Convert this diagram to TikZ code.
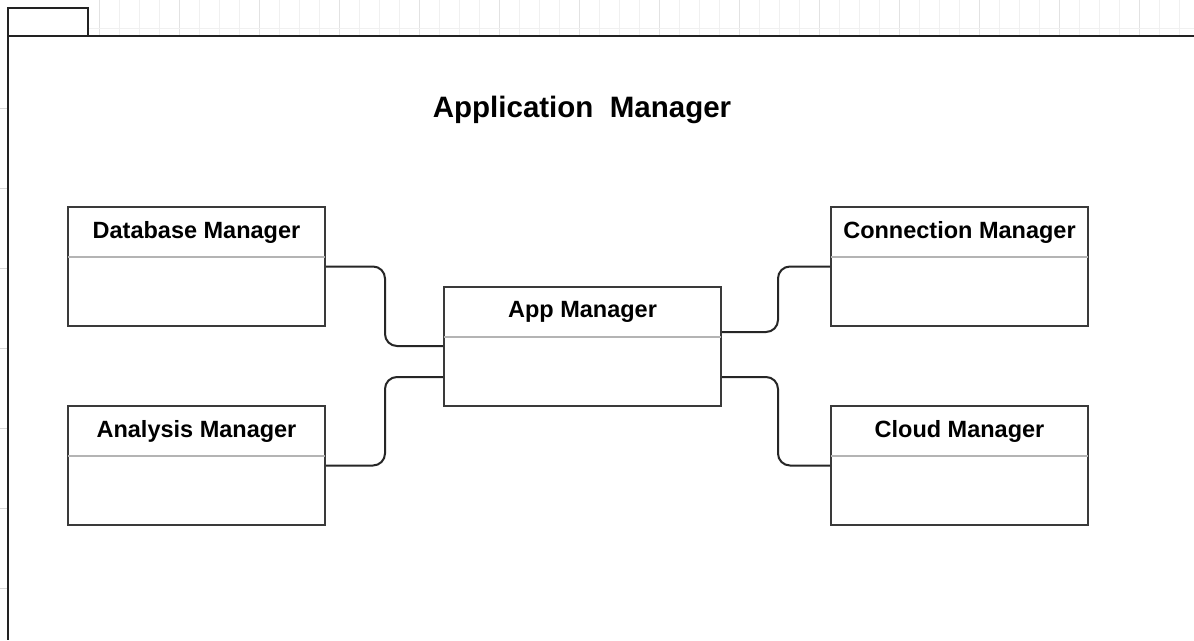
\documentclass[tikz,border=0pt]{standalone}
\usepackage{fontspec}
\setmainfont{Liberation Sans}
\usetikzlibrary{calc}
\definecolor{frameline}{HTML}{222222}
\definecolor{boxline}{HTML}{3A3A3A}
\definecolor{divline}{HTML}{B4B4B4}
\definecolor{gridline}{HTML}{F0F0F0}
\definecolor{gridmajor}{HTML}{E2E2E2}
\definecolor{tickline}{HTML}{D8D8D8}
\begin{document}
\begin{tikzpicture}[x=1pt,y=-1pt,
  frame/.style={draw=frameline,line width=2pt},
  umlbox/.style={draw=boxline,line width=2pt,fill=white,minimum width=257pt,minimum height=119pt,inner sep=0pt},
  appbox/.style={umlbox,minimum width=277pt,minimum height=119pt},
  divider/.style={draw=divline,line width=2pt},
  lbl/.style={font=\bfseries\fontsize{23.5}{28}\selectfont,inner sep=0pt},
  conn/.style={draw=black!85,line width=2pt,rounded corners=12pt}]
\useasboundingbox (0,0) rectangle (1194,640);
\fill[white] (0,0) rectangle (1194,640);

% faint canvas grid behind the package frame
\begin{scope}
  \clip (88,0) rectangle (1194,36);
  \foreach \gx in {19,39,...,1194} \draw[gridline,line width=0.8pt] (\gx,0) -- (\gx,36);
  \foreach \gx in {19,99,...,1194} \draw[gridmajor,line width=0.8pt] (\gx,0) -- (\gx,36);
  \draw[gridline,line width=0.8pt] (88,28) -- (1194,28);
\end{scope}
\foreach \gy in {108,188,268,348,428,508,588} \draw[tickline,line width=0.8pt] (0,\gy) -- (7,\gy);

% package frame with tab
\draw[frame] (8,36) -- (8,8) -- (88,8) -- (88,36);
\draw[frame] (8,36) -- (1194,36);
\draw[frame] (8,36) -- (8,640);

% title
\node[font=\bfseries\fontsize{29.5}{35}\selectfont,inner sep=0pt] (title) at (582,110) {Application\ \ Manager};

% class boxes
\node[umlbox] (db)   at (196.5,266.5) {};
\node[umlbox] (an)   at (196.5,465.5) {};
\node[appbox] (app)  at (582.5,346)   {};
\node[umlbox] (conn) at (959.5,266.5) {};
\node[umlbox] (cld)  at (959.5,465.5) {};

% header dividers
\foreach \b in {db,an,app,conn,cld}
  \draw[divider] ([yshift=-51pt,xshift=1pt]\b.north west) -- ([yshift=-51pt,xshift=-1pt]\b.north east);

% class names
\node[lbl] (dbl)   at ([yshift=-26.5pt]db.north)   {Database Manager};
\node[lbl] (anl)   at ([yshift=-26.5pt]an.north)   {Analysis Manager};
\node[lbl] (appl)  at ([yshift=-26.5pt]app.north)  {App Manager};
\node[lbl] (connl) at ([yshift=-26.5pt]conn.north) {Connection Manager};
\node[lbl] (cldl)  at ([yshift=-26.5pt]cld.north)  {Cloud Manager};

% ports on the App Manager box
\coordinate (appL1) at (app.west);
\coordinate (appL2) at ([yshift=-31pt]app.west);
\coordinate (appR1) at ([yshift=14pt]app.east);
\coordinate (appR2) at ([yshift=-31pt]app.east);
\coordinate (lx) at (385,0);
\coordinate (rx) at (778,0);

% connectors
\draw[conn] (db.east)  -- (lx |- db.east)  -- (lx |- appL1) -- (appL1);
\draw[conn] (an.east)  -- (lx |- an.east)  -- (lx |- appL2) -- (appL2);
\draw[conn] (appR1) -- (rx |- appR1) -- (rx |- conn.west) -- (conn.west);
\draw[conn] (appR2) -- (rx |- appR2) -- (rx |- cld.west)  -- (cld.west);
\end{tikzpicture}
\end{document}
